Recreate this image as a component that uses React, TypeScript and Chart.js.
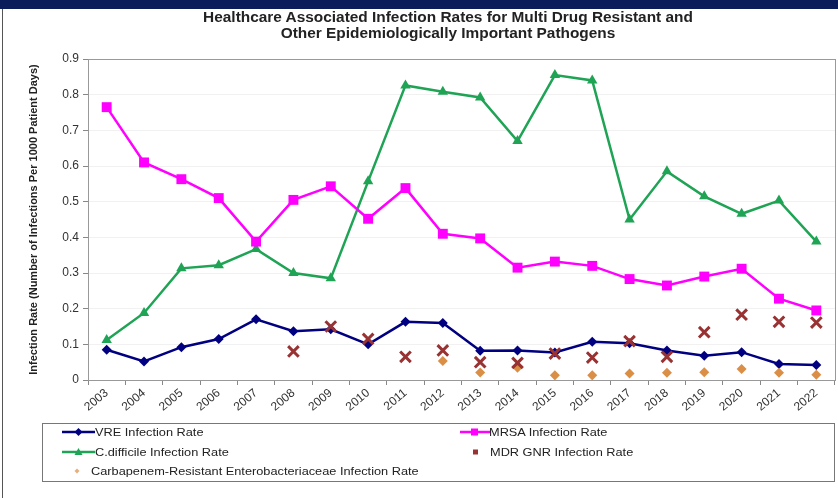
import React, { useEffect, useRef } from "react";
import { Chart, registerables } from "chart.js";

Chart.register(...registerables);

const years = ["2003", "2004", "2005", "2006", "2007", "2008", "2009", "2010", "2011", "2012", "2013", "2014", "2015", "2016", "2017", "2018", "2019", "2020", "2021", "2022"];
const vreRate = [0.085, 0.052, 0.092, 0.115, 0.17, 0.137, 0.142, 0.1, 0.163, 0.16, 0.082, 0.083, 0.077, 0.107, 0.103, 0.083, 0.068, 0.078, 0.045, 0.042];
const mrsaRate = [0.765, 0.61, 0.563, 0.51, 0.388, 0.505, 0.543, 0.452, 0.538, 0.41, 0.397, 0.315, 0.332, 0.32, 0.283, 0.265, 0.29, 0.312, 0.228, 0.195];
const cdiffRate = [0.112, 0.188, 0.313, 0.322, 0.367, 0.3, 0.285, 0.557, 0.826, 0.808, 0.792, 0.67, 0.855, 0.84, 0.45, 0.585, 0.515, 0.466, 0.503, 0.388];
const mdrGnrRate = [null, null, null, null, null, 0.08, 0.15, 0.115, 0.065, 0.083, 0.05, 0.048, 0.074, 0.063, 0.109, 0.065, 0.134, 0.183, 0.163, 0.161];
const creRate = [null, null, null, null, null, null, null, null, null, 0.053, 0.021, 0.034, 0.013, 0.013, 0.018, 0.02, 0.022, 0.031, 0.02, 0.015];
const yTicks = [0, 0.1, 0.2, 0.3, 0.4, 0.5, 0.6, 0.7, 0.8, 0.9];

const FONT = '"Liberation Sans", Arial, sans-serif';
const NAVY = "#000080";
const MAGENTA = "#FF00FF";
const GREEN = "#1FA354";
const MAROON = "#993333";
const ORANGE = "#DB8E45";

const frame = {
  id: "frame",
  beforeDatasetsDraw(chart: any) {
    const { ctx, chartArea } = chart;
    ctx.save();
    ctx.strokeStyle = "#999";
    ctx.lineWidth = 1;
    ctx.strokeRect(Math.round(chartArea.left) + 0.5, Math.round(chartArea.top) + 0.5, Math.round(chartArea.right - chartArea.left), Math.round(chartArea.bottom - chartArea.top));
    ctx.restore();
  },
};

function LegendIcon({ kind }: { kind: string }) {
  if (kind === "vre")
    return (
      <svg width="34" height="14" style={{ display: "block" }}>
        <line x1="0" y1="7" x2="33" y2="7" stroke={NAVY} strokeWidth="2.5" />
        <polygon points="16.5,3 20.5,7 16.5,11 12.5,7" fill={NAVY} />
      </svg>
    );
  if (kind === "mrsa")
    return (
      <svg width="34" height="14" style={{ display: "block" }}>
        <line x1="0" y1="7" x2="30" y2="7" stroke={MAGENTA} strokeWidth="2.5" />
        <rect x="11" y="3.5" width="7" height="7" fill={MAGENTA} />
      </svg>
    );
  if (kind === "cdiff")
    return (
      <svg width="34" height="14" style={{ display: "block" }}>
        <line x1="0" y1="7" x2="33" y2="7" stroke={GREEN} strokeWidth="2.5" />
        <polygon points="16.5,3 20.5,10 12.5,10" fill={GREEN} />
      </svg>
    );
  if (kind === "mdr")
    return (
      <svg width="34" height="14" style={{ display: "block" }}>
        <rect x="13" y="4.5" width="5" height="5" fill={MAROON} />
      </svg>
    );
  return (
    <svg width="34" height="14" style={{ display: "block" }}>
      <polygon points="15,4.5 17.5,7 15,9.5 12.5,7" fill={ORANGE} opacity="0.7" />
    </svg>
  );
}

const legendItems = [
  { kind: "vre", text: "VRE Infection Rate", iconX: 62, textX: 95, y: 432 },
  { kind: "mrsa", text: "MRSA Infection Rate", iconX: 460, textX: 489, y: 432 },
  { kind: "cdiff", text: "C.difficile Infection Rate", iconX: 62, textX: 95, y: 452 },
  { kind: "mdr", text: "MDR GNR Infection Rate", iconX: 460, textX: 490, y: 452 },
  { kind: "cre", text: "Carbapenem-Resistant Enterobacteriaceae Infection Rate", iconX: 62, textX: 91, y: 471 },
];

export default function App() {
  const ref = useRef<HTMLCanvasElement | null>(null);

  useEffect(() => {
    if (!ref.current) return;
    const chart = new Chart(ref.current, {
      type: "line",
      data: {
        labels: years,
        datasets: [
          {
            label: "MDR GNR Infection Rate",
            data: mdrGnrRate,
            showLine: false,
            pointStyle: "crossRot",
            pointRadius: 7.5,
            pointBorderWidth: 3,
            borderColor: MAROON,
            backgroundColor: MAROON,
            order: 0,
          },
          {
            label: "Carbapenem-Resistant Enterobacteriaceae Infection Rate",
            data: creRate,
            showLine: false,
            pointStyle: "rectRot",
            pointRadius: 5,
            pointBorderWidth: 0,
            borderColor: ORANGE,
            backgroundColor: ORANGE,
            order: 1,
          },
          {
            label: "VRE Infection Rate",
            data: vreRate,
            borderColor: NAVY,
            backgroundColor: NAVY,
            borderWidth: 2.5,
            pointStyle: "rectRot",
            pointRadius: 5,
            pointBorderWidth: 0,
            order: 2,
          },
          {
            label: "MRSA Infection Rate",
            data: mrsaRate,
            borderColor: MAGENTA,
            backgroundColor: MAGENTA,
            borderWidth: 2.5,
            pointStyle: "rect",
            pointRadius: 7,
            pointBorderWidth: 0,
            order: 3,
          },
          {
            label: "C.difficile Infection Rate",
            data: cdiffRate,
            borderColor: GREEN,
            backgroundColor: GREEN,
            borderWidth: 2.5,
            pointStyle: "triangle",
            pointRadius: 6,
            pointBorderWidth: 0,
            order: 4,
          },
        ],
      },
      options: {
        responsive: false,
        animation: false,
        events: [],
        layout: { autoPadding: false, padding: { left: 27, top: 59, right: 3, bottom: 78 } },
        plugins: {
          legend: { display: false },
          title: { display: false },
          tooltip: { enabled: false },
        },
        scales: {
          x: {
            type: "category",
            offset: true,
            grid: { offset: true, drawOnChartArea: false, tickLength: 5, color: "#888", tickColor: "#888" },
            border: { color: "#888" },
            ticks: {
              minRotation: 40,
              maxRotation: 40,
              autoSkip: false,
              padding: 1,
              color: "#333",
              font: { family: FONT, size: 12 },
            },
            afterFit: (s: any) => {
              s.height = 40;
            },
          },
          y: {
            type: "linear",
            min: 0,
            max: 0.9,
            afterBuildTicks: (s: any) => {
              s.ticks = yTicks.map((v) => ({ value: v }));
            },
            ticks: {
              padding: 4,
              color: "#333",
              font: { family: FONT, size: 12 },
              callback: (v: any) => String(Math.round(Number(v) * 10) / 10),
            },
            grid: { color: "#f1f1f1", tickColor: "#888", tickLength: 5 },
            border: { color: "#888" },
            title: {
              display: true,
              text: "Infection Rate (Number of Infections Per 1000 Patient Days)",
              color: "#222",
              font: { family: FONT, size: 11, weight: "bold" },
              padding: 0,
            },
            afterFit: (s: any) => {
              s.width = 61;
            },
          },
        },
      },
      plugins: [frame],
    });
    return () => chart.destroy();
  }, []);

  return (
    <div style={{ position: "absolute", left: 0, top: 0, width: 838, height: 498, background: "#fff", overflow: "hidden", fontFamily: FONT }}>
      <div style={{ position: "absolute", left: 0, top: 0, width: 838, height: 9, background: "#0b1c5a" }} />
      <div style={{ position: "absolute", left: 2, top: 9, width: 1, height: 489, background: "#555" }} />
      <canvas ref={ref} width={838} height={498} style={{ position: "absolute", left: 0, top: 0, width: 838, height: 498 }} />
      <div
        style={{
          position: "absolute",
          left: 148,
          top: 9,
          width: 600,
          textAlign: "center",
          fontWeight: "bold",
          fontSize: 14,
          lineHeight: "16px",
          color: "#222",
          transform: "scaleX(1.1)",
          transformOrigin: "300px 0",
        }}
      >
        <div>Healthcare Associated Infection Rates for Multi Drug Resistant and</div>
        <div>Other Epidemiologically Important Pathogens</div>
      </div>
      <div style={{ position: "absolute", left: 42, top: 423, width: 793, height: 59, border: "1px solid #777", boxSizing: "border-box" }} />
      {legendItems.map((it) => (
        <React.Fragment key={it.kind}>
          <div style={{ position: "absolute", left: it.iconX, top: it.y - 7 }}>
            <LegendIcon kind={it.kind} />
          </div>
          <div
            style={{
              position: "absolute",
              left: it.textX,
              top: it.y - 7,
              height: 14,
              lineHeight: "14px",
              fontSize: 11,
              color: "#222",
              whiteSpace: "nowrap",
              transform: "scaleX(1.16)",
              transformOrigin: "0 0",
            }}
          >
            {it.text}
          </div>
        </React.Fragment>
      ))}
    </div>
  );
}
